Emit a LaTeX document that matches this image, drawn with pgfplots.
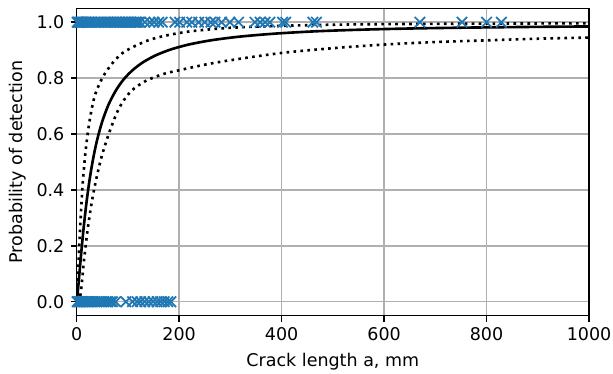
\documentclass[border=0pt]{standalone}
\usepackage{fontspec}
\setmainfont{DejaVu Sans}
\usepackage{pgfplots}
\pgfplotsset{compat=1.18}
\definecolor{tabblue}{RGB}{31,119,180}
\definecolor{gridgray}{RGB}{176,176,176}
\begin{document}
\begin{tikzpicture}
\begin{axis}[
  scale only axis, width=292.8pt, height=175.7pt,
  xmin=0, xmax=1000, ymin=-0.05, ymax=1.05,
  xtick={0,200,400,600,800,1000},
  ytick={0,0.2,0.4,0.6,0.8,1.0},
  /pgf/number format/assume math mode=true,
  xticklabel style={/pgf/number format/1000 sep={}},
  yticklabel style={/pgf/number format/.cd, fixed, fixed zerofill, precision=1},
  grid=major,
  major grid style={gridgray, line width=0.8pt},
  axis line style={line width=0.8pt},
  tick style={black, line width=0.8pt},
  major tick length=3.5pt,
  tick align=outside, tick pos=left,
  xlabel={Crack length a, mm},
  ylabel={Probability of detection},
  xlabel style={at={(axis description cs:0.5,-0.151)}, anchor=center},
  ylabel style={at={(axis description cs:-0.1154,0.5)}, anchor=center, rotate=0},
  clip=true,
]
% detected (y=1)
\addplot[only marks, mark=x, mark size=4.2pt, mark options={line width=1pt, draw=tabblue}] coordinates {
(1,1)(3,1)(5,1)(7,1)(9,1)(11,1)(13,1)(15,1)(17,1)(19,1)(21,1)(23,1)(25,1)(27,1)(29,1)(31,1)
(36,1)(42,1)(47,1)(52,1)(55,1)(58,1)(61,1)(64,1)(67,1)(70,1)(73,1)(76,1)(79,1)(82,1)(85,1)
(88,1)(91,1)(94,1)(97,1)(100,1)(103,1)(106,1)(109,1)(112,1)(115,1)(118,1)(121,1)(124,1)
(133,1)(143,1)(151,1)(160,1)(167,1)(192,1)(201,1)(215,1)(225,1)(238,1)(250,1)(262,1)(270,1)
(283,1)(299,1)(316,1)(348,1)(358,1)(368,1)(377,1)(402,1)(408,1)(461,1)(468,1)(670,1)(752,1)(800,1)(829,1)
};
% not detected (y=0)
\addplot[only marks, mark=x, mark size=4.2pt, mark options={line width=1pt, draw=tabblue}] coordinates {
(1,0)(3,0)(5,0)(7,0)(9,0)(11,0)(13,0)(15,0)(17,0)(19,0)(21,0)(24,0)(27,0)(30,0)(35,0)(40,0)
(45,0)(49,0)(53,0)(57,0)(61,0)(66,0)(70,0)(76,0)
(96,0)(109,0)(118,0)(125,0)(133,0)(141,0)(149,0)(157,0)(164,0)(171,0)(178,0)(184,0)
};
% POD estimate
\addplot[black, line width=1.5pt, smooth] coordinates {
(0,0)(1,0.0135)(2,0.0315)(3,0.0512)(5,0.0927)(7,0.1347)(10,0.1956)(14,0.2701)(19,0.3516)
(25,0.4332)(32,0.510)(40,0.579)(50,0.645)(62,0.704)(76,0.754)(92,0.796)(110,0.8297)
(130,0.8572)(155,0.8820)(185,0.9032)(220,0.9206)(265,0.9360)(320,0.9487)(390,0.9595)
(470,0.9677)(560,0.9735)(660,0.9778)(770,0.9808)(880,0.9830)(1000,0.9848)
};
% upper bound
\addplot[black, line width=1.5pt, dash pattern=on 1.5pt off 2.475pt, smooth] coordinates {
(0,0)(1,0.032)(2.7,0.10)(4.7,0.185)(8,0.304)(11.9,0.424)(17.7,0.543)(25.5,0.65)(35.9,0.74)
(51.5,0.805)(69.7,0.853)(89,0.889)(112,0.913)(138,0.934)(160,0.946)(190,0.958)(230,0.969)
(300,0.980)(400,0.987)(500,0.991)(600,0.993)(800,0.995)(1000,0.996)
};
% lower bound
\addplot[black, line width=1.5pt, dash pattern=on 1.5pt off 2.475pt, smooth] coordinates {
(0,0)(4,0.008)(8,0.03)(14.4,0.149)(22.2,0.268)(32.6,0.388)(47,0.507)(63.2,0.603)(82.7,0.692)
(105.5,0.752)(135,0.790)(170,0.815)(200,0.828)(250,0.848)(300,0.864)(400,0.890)(500,0.907)
(600,0.920)(700,0.929)(800,0.935)(900,0.941)(1000,0.945)
};
\coordinate (bl) at (rel axis cs:0,0);
\coordinate (tr) at (rel axis cs:1,1);
\end{axis}
\pgfresetboundingbox
\path[use as bounding box] ([shift={(-43.8pt,-33.3pt)}]bl) rectangle ([shift={(13.7pt,4.7pt)}]tr);
\end{tikzpicture}
\end{document}
